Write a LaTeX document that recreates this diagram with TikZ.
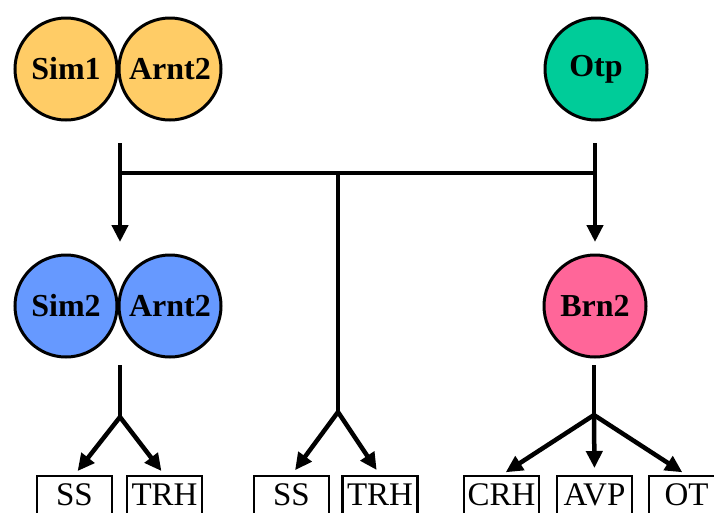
\documentclass[tikz,border=0pt]{standalone}
\usepackage{fontspec}
\setmainfont{Liberation Serif}
\usetikzlibrary{arrows.meta}
\definecolor{cyellow}{HTML}{FFCC66}
\definecolor{cgreen}{HTML}{00CC99}
\definecolor{cblue}{HTML}{6699FF}
\definecolor{cpink}{HTML}{FF6699}
\tikzset{
  prot/.style={circle, draw=black, line width=3pt, minimum size=102pt, inner sep=0pt,
    font=\fontsize{32}{38}\selectfont\bfseries},
  gene/.style={rectangle, draw=black, line width=2.2pt, minimum width=75pt, minimum height=42pt,
    inner sep=0pt, anchor=north, text height=23pt, text depth=6pt,
    font=\fontsize{33}{39}\selectfont},
  conn/.style={line width=4.5pt, draw=black},
  arr/.style={conn, -{Triangle[length=17pt,width=16pt]}},
}
\begin{document}
\begin{tikzpicture}[x=1pt,y=-1pt]
\clip (0,0) rectangle (714,512);
\fill[white] (0,0) rectangle (714,512);
% proteins
\node[prot, fill=cyellow] (sim1) at (66,69) {Sim1};
\node[prot, fill=cyellow] (arnt2a) at (170,69) {Arnt2};
\node[prot, fill=cgreen] (otp) at (596,69) {Otp};
\node[prot, fill=cblue] (sim2) at (66,306) {Sim2};
\node[prot, fill=cblue] (arnt2b) at (170,306) {Arnt2};
\node[prot, fill=cpink] (brn2) at (595,306) {Brn2};
% genes
\node[gene] (ss1) at (74.5,475) {SS};
\node[gene] (trh1) at (164.5,475) {TRH};
\node[gene] (ss2) at (291.5,475) {SS};
\node[gene] (trh2) at (380,475) {TRH};
\node[gene] (crh) at (501.5,475) {CRH};
\node[gene] (avp) at (594.5,475) {AVP};
\node[gene] (ot) at (686.5,475) {OT};
% connector points
\coordinate (ltop) at (120,143);
\coordinate (lmid) at (120,173);
\coordinate (lend) at (120,242);
\coordinate (rtop) at (595,143);
\coordinate (rmid) at (595,173);
\coordinate (rend) at (595,242);
\coordinate (mmid) at (338,173);
\coordinate (mfork) at (338,412);
\coordinate (lbot) at (120,365);
\coordinate (lfork) at (120,417);
\coordinate (rbot) at (594,365);
\coordinate (rfork) at (594,415);
% upper connectors
\draw[arr] (ltop) -- (lend);
\draw[arr] (rtop) -- (rend);
\draw[conn] (lmid) -- (rmid);
\draw[conn] (mmid) -- (mfork);
\draw[conn] (lbot) -- (lfork);
\draw[conn] (rbot) -- (rfork);
% fork arrows
\draw[arr, shorten >=5pt] (lfork) -- (ss1.north);
\draw[arr, shorten >=5pt] (lfork) -- (trh1.north);
\draw[arr, shorten >=6pt] (mfork) -- (ss2.north);
\draw[arr, shorten >=6pt] (mfork) -- (trh2.north);
\draw[arr, shorten >=5pt] (rfork) -- (crh.north);
\draw[arr, shorten >=7pt] (rfork) -- (avp.north);
\draw[arr, shorten >=5pt] (rfork) -- (ot.north);
\end{tikzpicture}
\end{document}
